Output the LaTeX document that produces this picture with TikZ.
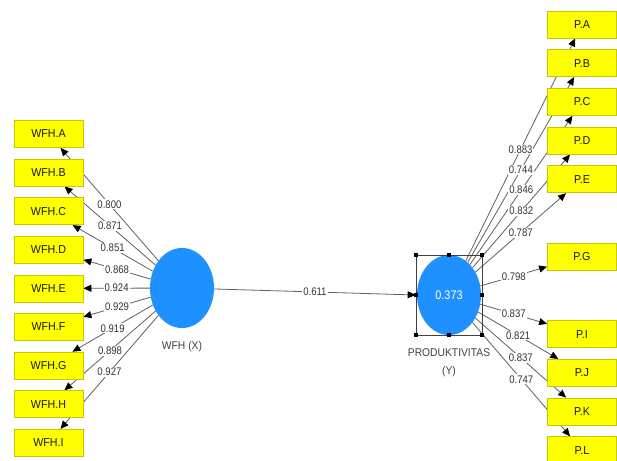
\documentclass[tikz,border=0pt]{standalone}
\usepackage{fontspec}
\setmainfont{Liberation Sans}
\newfontfamily\boxfont[FakeStretch=0.93]{Liberation Sans}
\newfontfamily\namefont[FakeStretch=0.92]{Liberation Sans}
\newfontfamily\lblfont[FakeStretch=0.87]{Liberation Sans}
\usetikzlibrary{shapes.geometric,arrows.meta,backgrounds}
\definecolor{lvblue}{RGB}{30,144,255}
\definecolor{boxyellow}{RGB}{255,255,0}
\definecolor{boxedge}{RGB}{200,200,0}
\definecolor{linegray}{RGB}{95,95,95}
\begin{document}
\begin{tikzpicture}[x=1pt,y=-1pt,
  ind/.style={draw=boxedge, fill=boxyellow, line width=0.8pt, minimum width=69pt, minimum height=27pt, inner sep=0pt, font=\boxfont\fontsize{11.5}{13}\selectfont, text=black!90},
  latent/.style={ellipse, fill=lvblue, minimum width=64pt, minimum height=80pt, inner sep=0pt},
  ld/.style={draw=linegray, line width=0.8pt, -{Triangle[length=8pt,width=7pt,color=black]}},
  lbl/.style={fill=white, inner sep=1pt, font=\lblfont\fontsize{11}{12}\selectfont, text=black!80},
  lvname/.style={font=\namefont\fontsize{11.2}{18}\selectfont, text=black!75, align=center},
  handle/.style={fill=black, minimum size=4pt, inner sep=0pt},
  selbox/.style={draw=black!75, line width=0.7pt, minimum width=66pt, minimum height=80pt, inner sep=0pt}
]
\useasboundingbox (0,0) rectangle (617,460);

% latent variables
\node[latent] (wfh) at (182,288) {};
\node[lvname] (wfhname) at (182,347) {WFH (X)};
\node[latent, font=\lblfont\fontsize{12.5}{14}\selectfont, text=white] (prod) at (449,295) {0.373};
\node[lvname] (prodname) at (449,363) {PRODUKTIVITAS\\(Y)};

% indicators left
\foreach \n/\t [count=\i from 0] in {wa/A,wb/B,wc/C,wd/D,we/E,wf/F,wg/G,wh/H,wi/I}
  \node[ind] (\n) at (48.5,134+38.6*\i) {WFH.\t};

% indicators right
\foreach \n/\t/\k in {pa/A/0,pb/B/1,pc/C/2,pd/D/3,pe/E/4,pg/G/6,pi/I/8,pj/J/9,pk/K/10,pl/L/11}
  \node[ind] (\n) at (582,24.5+38.7*\k) {P.\t};

% selection frame
\node[selbox] (sel) at (449,295) {};
\foreach \a [count=\j] in {north west,north,north east,east,south east,south,south west,west}
  \node[handle] (h\j) at (sel.\a) {};

\begin{scope}[on background layer]
  \foreach \n in {wa,wb,wc,wd,we,wf,wg,wh,wi}
    \draw[ld] (wfh) -- (\n);
  \foreach \n in {pa,pb,pc,pd,pe,pg,pi,pj,pk,pl}
    \draw[ld] (prod) -- (\n);
  \draw[ld] (wfh) -- (sel.west);
  \foreach \n/\v in {wa/0.800,wb/0.871,wc/0.851,wd/0.868,we/0.924,wf/0.929,wg/0.919,wh/0.898,wi/0.927}
    \path (wfh) -- (\n) node[lbl, midway] {\v};
  \foreach \n/\v in {pa/0.883,pb/0.744,pc/0.846,pd/0.832,pe/0.787,pg/0.798,pi/0.837,pj/0.821,pk/0.837,pl/0.747}
    \path (prod) -- (\n) node[lbl, midway] {\v};
  \path (wfh) -- (sel.west) node[lbl, midway] {0.611};
\end{scope}
\end{tikzpicture}
\end{document}
